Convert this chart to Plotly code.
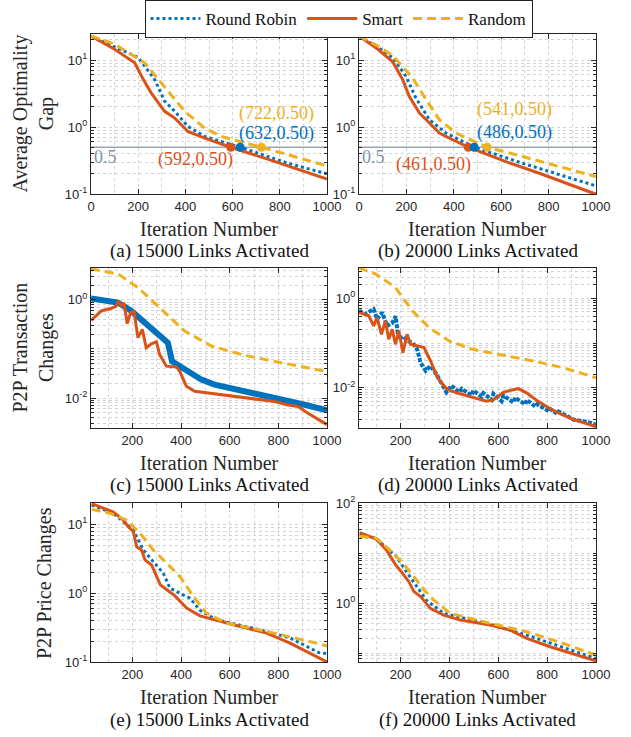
import math
import plotly.graph_objects as go

W, H = 631, 737

# ---------------- data ----------------
# (a) 15000 links – average optimality gap
a_rr_x = [0, 100, 200, 270, 312, 355, 411, 482, 632, 835, 1000]
a_rr_y = [22.9, 15.8, 10.9, 5.13, 2.43, 1.72, 1.02, 0.724, 0.5, 0.288, 0.2]
a_sm_x = [0, 100, 185, 220, 255, 312, 355, 411, 482, 592, 736, 863, 1000]
a_sm_y = [22.9, 14.5, 9.12, 5.25, 3.24, 1.72, 1.36, 0.859, 0.684, 0.5, 0.343, 0.242, 0.1675]
a_ra_x = [0, 100, 227, 326, 397, 482, 552, 722, 835, 1000]
a_ra_y = [22.9, 17.4, 9.12, 3.43, 1.72, 0.966, 0.724, 0.5, 0.384, 0.263]
a_hit_x = [592, 632, 722]          # Smart, Round Robin, Random
# (b) 20000 links – average optimality gap
b_rr_x = [0, 80, 142, 198, 240, 297, 367, 486, 690, 1000]
b_rr_y = [22.9, 15.5, 10.9, 5.75, 2.72, 1.29, 0.813, 0.5, 0.288, 0.132]
b_sm_x = [0, 80, 142, 184, 212, 255, 290, 339, 395, 461, 620, 761, 972, 1000]
b_sm_y = [22.9, 14.5, 9.44, 5.13, 2.88, 1.62, 1.22, 0.813, 0.646, 0.5, 0.305, 0.204, 0.108, 0.1]
b_ra_x = [0, 80, 142, 226, 283, 339, 409, 541, 690, 1000]
b_ra_y = [22.9, 16.2, 11.7, 5.43, 2.57, 1.29, 0.813, 0.5, 0.363, 0.182]
b_hit_x = [461, 486, 541]
gap_level = 0.5

# (c) 15000 links – P2P transaction changes
c_rr_x = [30, 141, 196, 251, 292, 346, 363, 394, 429, 484, 538, 634, 771, 908, 1000]
c_rr_y = [1.07, 0.885, 0.596, 0.344, 0.232, 0.134, 0.0562, 0.0447, 0.0363, 0.0237,
          0.0188, 0.0148, 0.0108, 0.0073, 0.0056]
c_sm_x = [31, 72, 114, 134, 144, 155, 166, 179, 193, 207, 223, 241, 257, 278, 299, 312,
          340, 381, 394, 422, 456, 566, 675, 785, 840, 881, 922, 977, 1000]
c_sm_y = [0.384, 0.596, 0.676, 0.759, 0.955, 0.759, 0.817, 0.328, 0.552, 0.575, 0.170,
          0.251, 0.106, 0.128, 0.140, 0.0771, 0.0447, 0.0427, 0.0355, 0.0174, 0.0137,
          0.0117, 0.0100, 0.00851, 0.00724, 0.00676, 0.0049, 0.00331, 0.00288]
c_ra_x = [30, 141, 223, 319, 415, 525, 662, 812, 1000]
c_ra_y = [4.27, 3.37, 1.79, 0.646, 0.232, 0.115, 0.0741, 0.0525, 0.0347]

# (d) 20000 links – P2P transaction changes
d_rr_x = [30, 56, 90, 104, 125, 145, 166, 180, 192, 210, 230, 250, 268, 282, 303, 323,
          345, 371, 388, 408, 440, 450, 490, 498, 532, 539, 573, 580, 614, 621, 662, 669,
          710, 717, 751, 758, 799, 806, 840, 847, 907, 960, 1000]
d_rr_y = [0.527, 0.445, 0.575, 0.343, 0.484, 0.243, 0.282, 0.398, 0.12, 0.141, 0.112,
          0.1, 0.0724, 0.0363, 0.024, 0.0309, 0.0209, 0.011, 0.00794, 0.0112, 0.00794,
          0.00955, 0.00676, 0.00871, 0.00631, 0.00759, 0.00537, 0.00733, 0.00501,
          0.00676, 0.00468, 0.00603, 0.00427, 0.00537, 0.0038, 0.00427, 0.00316,
          0.00355, 0.00263, 0.00295, 0.00195, 0.00174, 0.00151]
d_sm_x = [30, 70, 90, 104, 122, 138, 152, 166, 179, 193, 210, 227, 241, 262, 296, 323,
          351, 385, 401, 443, 498, 552, 580, 621, 655, 683, 717, 758, 813, 854, 909, 964, 1000]
d_sm_y = [0.484, 0.407, 0.243, 0.373, 0.157, 0.314, 0.122, 0.204, 0.094, 0.1875, 0.0611,
          0.157, 0.094, 0.0891, 0.0794, 0.0398, 0.0167, 0.0100, 0.0087, 0.00733, 0.00617,
          0.00501, 0.00537, 0.00794, 0.00891, 0.00955, 0.00759, 0.00519, 0.00339, 0.0026,
          0.00195, 0.00155, 0.00135]
d_ra_x = [30, 97, 179, 248, 316, 399, 495, 605, 742, 865, 1000]
d_ra_y = [4.79, 3.52, 1.76, 0.527, 0.224, 0.112, 0.0726, 0.0562, 0.0398, 0.0282, 0.0167]

# (e) 15000 links – P2P price changes
e_rr_x = [33, 122, 204, 245, 286, 327, 355, 396, 437, 478, 546, 752, 848, 964, 1000]
e_rr_y = [19.05, 14.45, 8.26, 4.25, 2.87, 1.95, 1.18, 1.0, 0.845, 0.562, 0.411, 0.278,
          0.224, 0.138, 0.132]
e_sm_x = [33, 122, 163, 183, 204, 218, 238, 252, 279, 300, 315, 342, 375, 423, 478, 615,
          752, 848, 964, 1000]
e_sm_y = [19.95, 15.1, 11.5, 9.23, 7.82, 4.73, 4.25, 3.04, 2.57, 1.74, 1.32, 1.12, 0.912,
          0.607, 0.468, 0.347, 0.263, 0.188, 0.115, 0.1]
e_ra_x = [33, 108, 177, 232, 286, 342, 396, 451, 505, 587, 752, 957, 1000]
e_ra_y = [16.5, 14.45, 11.5, 7.41, 4.25, 2.72, 1.74, 0.891, 0.513, 0.367, 0.278, 0.188, 0.17]

# (f) 20000 links – P2P price changes
f_rr_x = [33, 101, 142, 183, 224, 265, 305, 377, 567, 717, 894, 1000]
f_rr_y = [23.2, 19.95, 12.6, 8.55, 4.29, 2.15, 1.16, 0.631, 0.38, 0.232, 0.12, 0.0794]
f_sm_x = [33, 101, 142, 180, 208, 234, 255, 282, 322, 377, 445, 567, 649, 717, 812, 921, 1000]
f_sm_y = [25.7, 19.05, 11.6, 5.83, 3.98, 2.7, 1.71, 1.36, 0.794, 0.583, 0.463, 0.368,
          0.292, 0.2, 0.136, 0.0925, 0.0711]
f_ra_x = [33, 101, 156, 210, 255, 296, 336, 404, 567, 717, 867, 1000]
f_ra_y = [21.5, 19.95, 11.6, 6.31, 3.4, 1.85, 1.16, 0.631, 0.398, 0.272, 0.158, 0.0925]

series_names = ["Round Robin", "Smart", "Random"]
captions = ["(a) 15000 Links Activated", "(b) 20000 Links Activated",
            "(c) 15000 Links Activated", "(d) 20000 Links Activated",
            "(e) 15000 Links Activated", "(f) 20000 Links Activated"]
ytitles = ["Average Optimality<br>Gap", "P2P Transaction<br>Changes", "P2P Price Changes"]
xtitle = "Iteration Number"

# ---------------- styling ----------------
C_RR, C_SM, C_RA = "#0072BD", "#D95319", "#EDB120"
REF_C = "#9aa4b2"
GRID = "#d4d4d4"
AX = "#262626"
SERIF = "Liberation Serif"
SANS = "Liberation Sans"

fig = go.Figure()


def ax_ids(idx):
    return ("x" if idx == 1 else f"x{idx}"), ("y" if idx == 1 else f"y{idx}")


def add_panel(idx, rr, sm, ra, legend=False, rr_width=3, rr_dash="dot"):
    xa, ya = ax_ids(idx)
    fig.add_trace(go.Scatter(x=rr[0], y=rr[1], mode="lines", name=series_names[0],
                             line=dict(color=C_RR, width=rr_width, dash=rr_dash),
                             xaxis=xa, yaxis=ya, showlegend=legend, legendrank=1))
    fig.add_trace(go.Scatter(x=sm[0], y=sm[1], mode="lines", name=series_names[1],
                             line=dict(color=C_SM, width=3),
                             xaxis=xa, yaxis=ya, showlegend=legend, legendrank=2))
    fig.add_trace(go.Scatter(x=ra[0], y=ra[1], mode="lines", name=series_names[2],
                             line=dict(color=C_RA, width=3, dash="9px,5px"),
                             xaxis=xa, yaxis=ya, showlegend=legend, legendrank=3))


# reference lines at 0.5 (drawn first, beneath)
for idx in (1, 2):
    xa, ya = ax_ids(idx)
    fig.add_trace(go.Scatter(x=[0, 1000], y=[gap_level, gap_level], mode="lines",
                             line=dict(color=REF_C, width=1.5), xaxis=xa, yaxis=ya,
                             showlegend=False, hoverinfo="skip"))

add_panel(1, (a_rr_x, a_rr_y), (a_sm_x, a_sm_y), (a_ra_x, a_ra_y), legend=True)
add_panel(2, (b_rr_x, b_rr_y), (b_sm_x, b_sm_y), (b_ra_x, b_ra_y))
add_panel(3, (c_rr_x, c_rr_y), (c_sm_x, c_sm_y), (c_ra_x, c_ra_y), rr_width=6, rr_dash="solid")
add_panel(4, (d_rr_x, d_rr_y), (d_sm_x, d_sm_y), (d_ra_x, d_ra_y), rr_width=4, rr_dash="4px,1.5px")
add_panel(5, (e_rr_x, e_rr_y), (e_sm_x, e_sm_y), (e_ra_x, e_ra_y))
add_panel(6, (f_rr_x, f_rr_y), (f_sm_x, f_sm_y), (f_ra_x, f_ra_y))

# crossing markers
hit_colors = [C_SM, C_RR, C_RA]
for idx, hits in ((1, a_hit_x), (2, b_hit_x)):
    xa, ya = ax_ids(idx)
    fig.add_trace(go.Scatter(x=hits, y=[gap_level] * len(hits), mode="markers",
                             marker=dict(color=hit_colors, size=9),
                             xaxis=xa, yaxis=ya, showlegend=False))


# ---------------- axes ----------------
def px(x):
    return x / W


def py(y):
    return 1 - y / H


xdom = [[px(91), px(327)], [px(359), px(596)]]
ydom = [[py(194), py(34)], [py(428), py(268)], [py(662), py(503)]]

tickfont = dict(family=SANS, size=13, color=AX)


def minor_log(lo, hi, extra=()):
    vals = []
    for d in range(lo, hi + 1):
        for k in range(2, 10):
            vals.append(k * 10.0 ** d)
    vals.extend(extra)
    return vals


def sup(e):
    return f"10<sup>{e}</sup>"


yspecs = [
    dict(range=[-1, 1.39], tv=[0.1, 1, 10], tt=[sup(-1), sup(0), sup(1)], mv=minor_log(-1, 1)),
    dict(range=[-1, 1.39], tv=[0.1, 1, 10], tt=[sup(-1), sup(0), sup(1)], mv=minor_log(-1, 1)),
    dict(range=[-2.61, 0.65], tv=[0.01, 1], tt=[sup(-2), sup(0)], mv=minor_log(-3, 0, [0.1])),
    dict(range=[-2.9, 0.68], tv=[0.01, 1], tt=[sup(-2), sup(0)], mv=minor_log(-3, 0, [0.1])),
    dict(range=[-1, 1.31], tv=[0.1, 1, 10], tt=[sup(-1), sup(0), sup(1)], mv=minor_log(-1, 1)),
    dict(range=[-1.17, 2], tv=[1, 100], tt=[sup(0), sup(2)], mv=minor_log(-2, 1, [0.1, 10])),
]

layout = {}
for i in range(6):
    r, c = divmod(i, 2)
    n = i + 1
    xk = "xaxis" if n == 1 else f"xaxis{n}"
    yk = "yaxis" if n == 1 else f"yaxis{n}"
    xa, ya = ax_ids(n)
    if r == 0:
        xr, xt = [0, 1000], [0, 200, 400, 600, 800, 1000]
    else:
        xr, xt = [30, 1000], [200, 400, 600, 800, 1000]
    common = dict(showline=True, linecolor=AX, linewidth=1, mirror="ticks",
                  ticks="inside", ticklen=5, tickcolor=AX, tickwidth=1,
                  tickfont=tickfont, showgrid=True, gridcolor=GRID, griddash="dot",
                  gridwidth=1, zeroline=False, automargin=False)
    layout[xk] = dict(domain=xdom[c], range=xr, anchor=ya, tickmode="array", tickvals=xt,
                      minor=dict(tickmode="array",
                                 tickvals=[v for v in range(100, 1000, 200)],
                                 ticks="", showgrid=True, gridcolor=GRID, griddash="dot"),
                      **common)
    s = yspecs[i]
    layout[yk] = dict(domain=ydom[r], type="log", range=s["range"], anchor=xa,
                      tickmode="array", tickvals=s["tv"], ticktext=s["tt"],
                      minor=dict(tickmode="array", tickvals=s["mv"], ticks="inside",
                                 ticklen=3, tickcolor=AX, showgrid=True,
                                 gridcolor=GRID, griddash="dot"),
                      **common)

# ---------------- annotations ----------------
ann = []
xcent = [px(209), px(477.5)]
row_xtitle_y = [229, 463, 697]
row_cap_y = [251, 485, 720]
for i in range(6):
    r, c = divmod(i, 2)
    ann.append(dict(text=xtitle, x=xcent[c], y=py(row_xtitle_y[r]), xref="paper",
                    yref="paper", showarrow=False,
                    font=dict(family=SERIF, size=20, color=AX),
                    xanchor="center", yanchor="middle"))
    ann.append(dict(text=captions[i], x=xcent[c], y=py(row_cap_y[r]), xref="paper",
                    yref="paper", showarrow=False,
                    font=dict(family=SERIF, size=19, color="#111"),
                    xanchor="center", yanchor="middle"))
for r, (xx, yy) in enumerate([(33.5, 114), (32.5, 348), (44.5, 582.5)]):
    ann.append(dict(text=ytitles[r], x=px(xx), y=py(yy), xref="paper", yref="paper",
                    showarrow=False, textangle=-90,
                    font=dict(family=SERIF, size=20, color=AX),
                    xanchor="center", yanchor="middle"))


def tip_font(col):
    return dict(family=SERIF, size=18, color=col)


for idx, hits, pos in (
        (1, a_hit_x, [(441, -0.49), (784, -0.09), (784, 0.21)]),
        (2, b_hit_x, [(313, -0.566), (654, -0.085), (658, 0.26)])):
    xa, ya = ax_ids(idx)
    ann.append(dict(text=f"{gap_level}", x=4, y=-0.445, xref=xa, yref=ya, showarrow=False,
                    xanchor="left", yanchor="middle", font=tip_font("#8391a4")))
    for h, (tx, ty), col in zip(hits, pos, hit_colors):
        ann.append(dict(text=f"({h},{gap_level:.2f})", x=tx, y=ty, xref=xa, yref=ya,
                        showarrow=False, xanchor="center", yanchor="middle",
                        font=tip_font(col)))

fig.update_layout(
    width=W, height=H, autosize=False,
    margin=dict(l=0, r=0, t=0, b=0, autoexpand=False),
    paper_bgcolor="white", plot_bgcolor="white",
    showlegend=True,
    legend=dict(orientation="h", x=px(338.5), y=1.0, xanchor="center", yanchor="top",
                bordercolor="#222", borderwidth=1, bgcolor="white",
                font=dict(family=SERIF, size=17, color="#111"),
                itemwidth=50, tracegroupgap=0, traceorder="normal"),
    annotations=ann,
    **layout,
)

fig.write_html("out.html",
               config={"displayModeBar": False},
               post_script="document.body.style.margin='0';"
                           "document.body.style.overflow='hidden';")
